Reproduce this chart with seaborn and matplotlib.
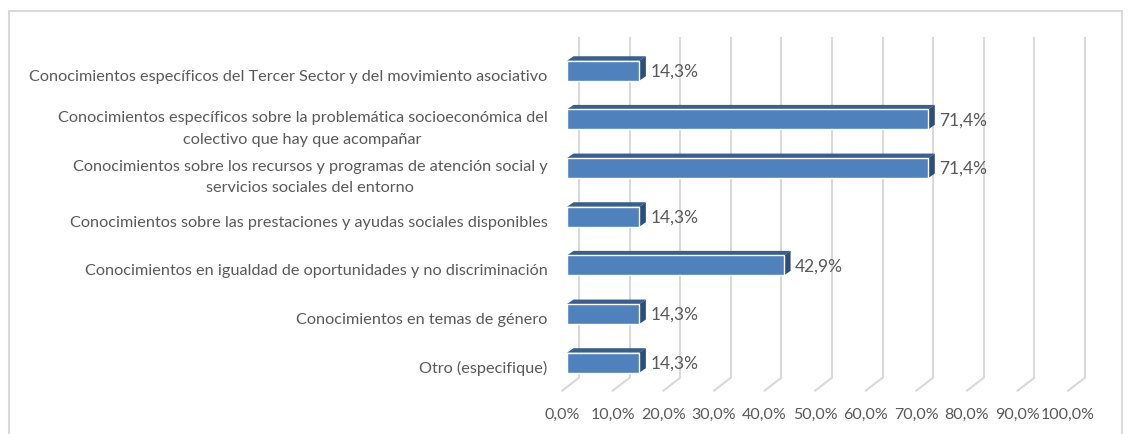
import matplotlib
matplotlib.use("Agg")
import matplotlib.pyplot as plt
import matplotlib.transforms as mtransforms
from matplotlib.patches import Polygon, Rectangle
import seaborn as sns

# --------------------------------------
# DATA
# --------------------------------------

categories = [
    "Conocimientos específicos del Tercer Sector y del movimiento asociativo",
    "Conocimientos específicos sobre la problemática socioeconómica del\ncolectivo que hay que acompañar",
    "Conocimientos sobre los recursos y programas de atención social y\nservicios sociales del entorno",
    "Conocimientos sobre las prestaciones y ayudas sociales disponibles",
    "Conocimientos en igualdad de oportunidades y no discriminación",
    "Conocimientos en temas de género",
    "Otro (especifique)",
]
values = [14.3, 71.4, 71.4, 14.3, 42.9, 14.3, 14.3]
xticks = [0, 10, 20, 30, 40, 50, 60, 70, 80, 90, 100]
xtick_labels = ["0,0%", "10,0%", "20,0%", "30,0%", "40,0%", "50,0%",
                "60,0%", "70,0%", "80,0%", "90,0%", "100,0%"]

TEXT = "#595959"
GRID = "#D9D9D9"
FRONT = "#4F81BD"
TOP = "#3A5E8E"
SIDE = "#2E4D78"

sns.set_style("white")
plt.rcParams["font.family"] = ["Lato", "DejaVu Sans"]

# --------------------------------------
# FIGURE
# --------------------------------------

W, H = 1131, 435
fig = plt.figure(figsize=(W / 100, H / 100), dpi=100)

# axes in pixels: x 0..100 -> 567..1073, rows -0.5..6.5 -> 47.4..388 (from top)
left, right, top, bottom = 567, 1073, 47.4, 388
ax = fig.add_axes([left / W, (H - bottom) / H, (right - left) / W, (bottom - top) / H])

sns.barplot(x=values, y=categories, orient="h", color=FRONT, width=0.41,
            saturation=1, ax=ax, zorder=3)

ax.set_xlim(0, 100)
ax.set_ylim(6.5, -0.5)
for s in ax.spines.values():
    s.set_visible(False)
ax.set_xlabel("")
ax.set_ylabel("")

px_x = (right - left) / 100.0
px_y = (bottom - top) / 7.0


def off(dx_px, dy_px):
    # pixel offset -> data offset (y down positive in pixels)
    return dx_px / px_x, dy_px / px_y


# --------------------------------------
# 3D GRID (back wall + floor)
# --------------------------------------

bdx, bdy = off(12, -9.3)
fdx, fdy = off(-5, 3.8)
for t in xticks:
    ax.plot([t + bdx, t + bdx], [6.5 + bdy, -0.5 + bdy], color=GRID, lw=1.5,
            clip_on=False, zorder=1, solid_capstyle="butt")
    ax.plot([t + fdx, t + bdx], [6.5 + fdy, 6.5 + bdy], color=GRID, lw=1.5,
            clip_on=False, zorder=1)

# --------------------------------------
# 3D BAR FACES
# --------------------------------------

ddx, ddy = off(6.5, -4.5)
for p in ax.patches:
    x0, y0 = p.get_x(), p.get_y()
    w, h = p.get_width(), p.get_height()
    x1, y1 = x0 + w, y0 + h
    top_face = Polygon([(x0, y0), (x1, y0), (x1 + ddx, y0 + ddy), (x0 + ddx, y0 + ddy)],
                       closed=True, facecolor=TOP, edgecolor="none", zorder=2.5,
                       clip_on=False)
    side_face = Polygon([(x1, y0), (x1 + ddx, y0 + ddy), (x1 + ddx, y1 + ddy), (x1, y1)],
                        closed=True, facecolor=SIDE, edgecolor="none", zorder=2.5,
                        clip_on=False)
    ax.add_patch(top_face)
    ax.add_patch(side_face)

# value labels
ax.bar_label(ax.containers[0],
             labels=[f"{v:.1f}%".replace(".", ",") for v in values],
             padding=8, color=TEXT, fontsize=12.5)

# --------------------------------------
# TICKS
# --------------------------------------

ax.set_xticks(xticks)
ax.set_xticklabels(xtick_labels)
ax.tick_params(axis="x", length=0, pad=14.5, labelsize=11.5, labelcolor=TEXT)
ax.tick_params(axis="y", length=0, pad=14, labelsize=11.7, labelcolor=TEXT)

shift_x = mtransforms.ScaledTranslation(-0.05, 0, fig.dpi_scale_trans)
for lab in ax.get_xticklabels():
    lab.set_transform(lab.get_transform() + shift_x)
shift_y = mtransforms.ScaledTranslation(0, -0.035, fig.dpi_scale_trans)
for lab in ax.get_yticklabels():
    lab.set_multialignment("center")
    lab.set_linespacing(1.65)
    lab.set_transform(lab.get_transform() + shift_y)

# outer frame
fig.patches.append(Rectangle((8.5 / W, -0.1), (1122 - 8.5) / W, (H - 12) / H + 0.1,
                             transform=fig.transFigure, fill=False,
                             edgecolor=GRID, lw=1.5))

plt.savefig("out.png", dpi=100)
